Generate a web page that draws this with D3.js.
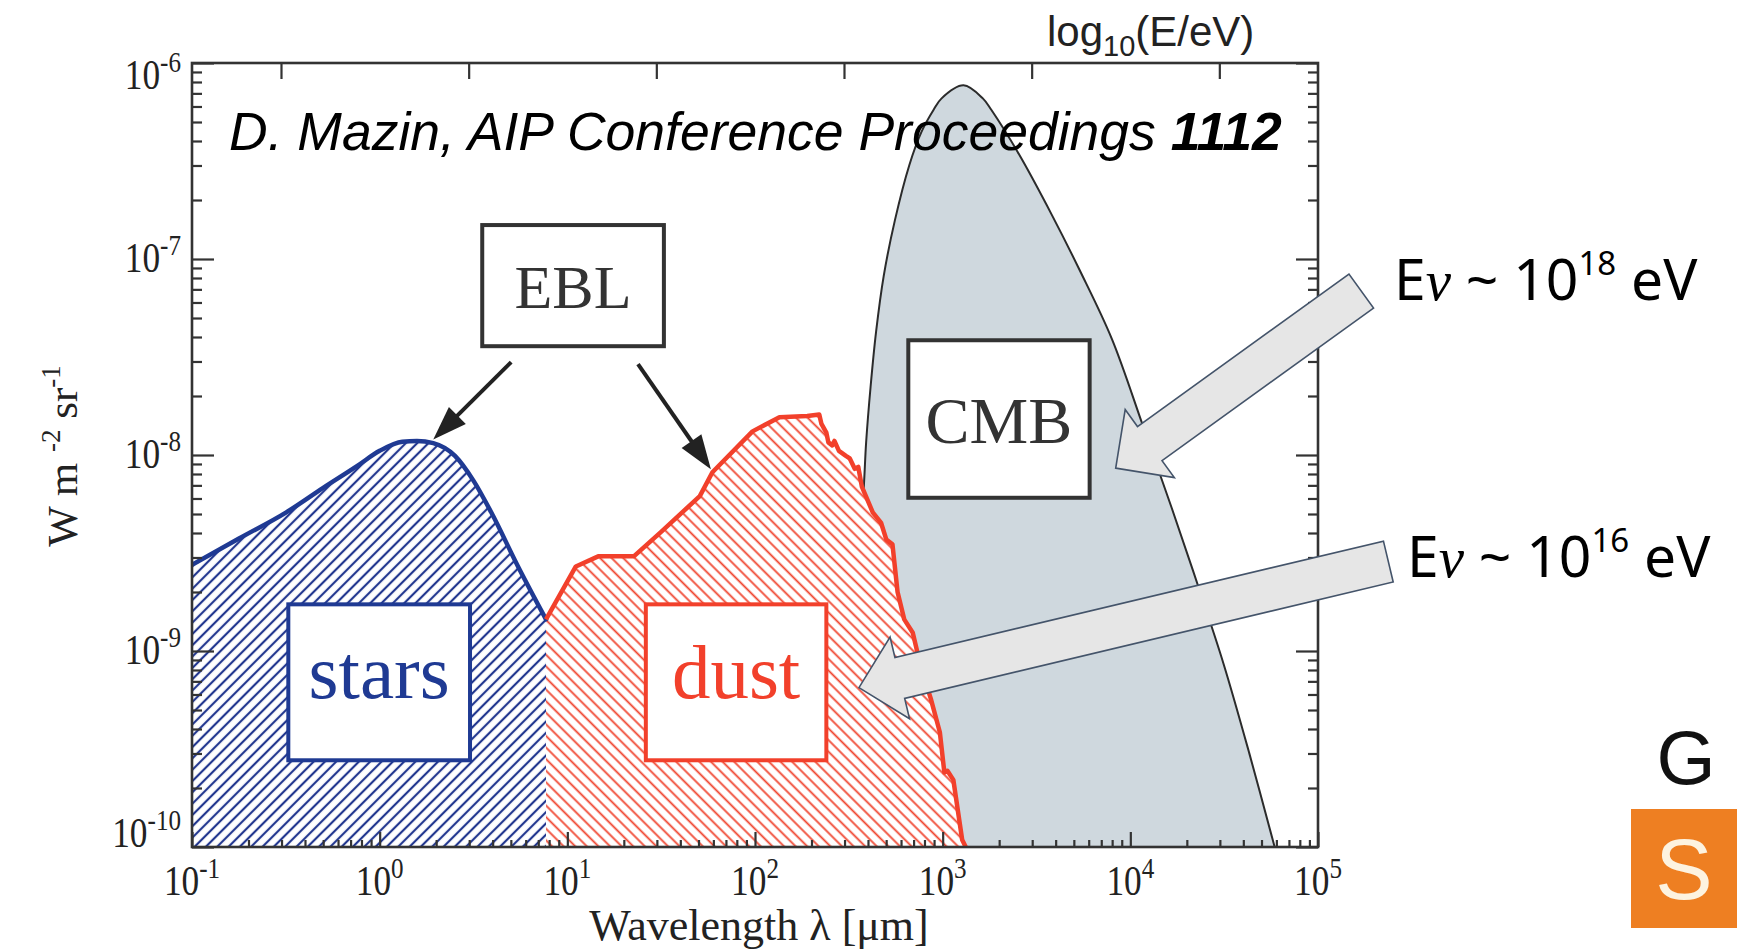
<!DOCTYPE html>
<html>
<head>
<meta charset="utf-8">
<script src="https://cdn.jsdelivr.net/npm/d3@7/dist/d3.min.js"></script>
<style>
body { margin: 0; background: #fff; }
</style>
</head>
<body>
<div id="graph_container"></div>
<script>
// wavelength in micron, nu I_nu in W m^-2 sr^-1
var starsLambda = [0.1, 0.178, 0.318, 0.5, 0.76, 1.0, 1.32, 1.58, 1.93, 2.52, 3.16, 3.93, 5.46, 7.7];
var starsFlux = [2.75e-9, 3.75e-9, 5.1e-9, 6.8e-9, 8.8e-9, 1.05e-8, 1.17e-8, 1.18e-8, 1.15e-8, 9.9e-9, 7.4e-9, 5.1e-9, 2.7e-9, 1.45e-9];

var dustLambda = [7.7, 11.1, 14.6, 22.6, 31.5, 50.8, 59.3, 97, 135, 190, 220, 226, 240, 246, 258, 265, 280, 305, 320, 340, 355, 371, 424, 470, 501, 540, 575, 624, 693, 760, 865, 966, 1021, 1060, 1140, 1270, 1327];
var dustFlux = [1.45e-9, 2.7e-9, 3.04e-9, 3.04e-9, 4.04e-9, 6.17e-9, 8.17e-9, 1.32e-8, 1.56e-8, 1.58e-8, 1.61e-8, 1.44e-8, 1.3e-8, 1.16e-8, 1.12e-8, 1.18e-8, 1.05e-8, 9.9e-9, 9.6e-9, 8.5e-9, 8.7e-9, 6.9e-9, 5.1e-9, 4.5e-9, 3.7e-9, 3.5e-9, 2.0e-9, 1.45e-9, 1.24e-9, 8.5e-10, 5.7e-10, 3.85e-10, 2.4e-10, 2.45e-10, 2.2e-10, 1.09e-10, 1e-10];

var cmbLambda = [282, 316, 347, 380, 391, 413, 442, 485, 556, 664, 771, 895, 984, 1291, 1641, 1816, 2547, 3828, 5383, 7980, 11670, 16600, 23000, 31400, 42950, 58750];
var cmbFlux = [1e-10, 3.98e-10, 2.0e-9, 6.89e-9, 1.16e-8, 2.23e-8, 4.27e-8, 8.18e-8, 1.57e-7, 3.01e-7, 4.45e-7, 5.77e-7, 6.58e-7, 7.69e-7, 6.58e-7, 5.77e-7, 3.43e-7, 1.67e-7, 8.73e-8, 3.9e-8, 1.41e-8, 5.38e-9, 2.14e-9, 8.59e-10, 3.03e-10, 1e-10];

var xTickValues = [1e-1, 1e0, 1e1, 1e2, 1e3, 1e4, 1e5];
var yTickValues = [1e-10, 1e-9, 1e-8, 1e-7, 1e-6];
var energyTicks = [10, 1, 0.1, 0.01, 0.001, 0.0001];   // top axis, eV
var energyDomain = [29.8, 2.98e-5];

// labelled boxes: lambda left, lambda right, flux top, flux bottom
var boxLabels = ["EBL", "CMB", "stars", "dust"];
var boxExtents = [[3.52, 32.7, 1.49e-7, 3.59e-8], [656, 6070, 3.85e-8, 6.05e-9], [0.326, 3.03, 1.73e-9, 2.77e-10], [26.2, 240, 1.73e-9, 2.77e-10]];
// arrows out of the EBL box: tail lambda, tail flux, tip lambda, tip flux
var eblArrows = [[5.02, 2.98e-8, 1.93, 1.2e-8], [23.8, 2.91e-8, 58.2, 8.47e-9]];
// neutrino arrows: tip lambda, tip flux, tail lambda, tail flux
var nuArrows = [[8356, 8.57e-9, 1.7e5, 6.86e-8], [358, 6.5e-10, 2.37e5, 2.86e-9]];
var nuExponents = ["18", "16"];

var margin = {top: 63, right: 419, bottom: 103, left: 192},
    w = 1737 - margin.left - margin.right,
    h = 950 - margin.top - margin.bottom;

var xScale = d3.scaleLog().domain([0.1, 1e5]).range([0, w]);
var yScale = d3.scaleLog().domain([1e-10, 1e-6]).range([h, 0]);
var eScale = d3.scaleLog().domain(energyDomain).range([0, w]);

var serif = "'Liberation Serif', 'Times New Roman', serif";
var sans = "'Liberation Sans', Arial, sans-serif";
var blue = "#1f3a93", red = "#f2402b", dark = "#333";

var root = d3.select('#graph_container').append('svg')
    .attr("width", 1737)
    .attr("height", 950)
    .style("display", "block");

var defs = root.append("defs");
function hatch(id, color, angle, gap, sw) {
    var p = defs.append("pattern").attr("id", id)
        .attr("patternUnits", "userSpaceOnUse")
        .attr("width", gap).attr("height", gap)
        .attr("patternTransform", "rotate(" + angle + ")");
    p.append("rect").attr("width", gap).attr("height", gap).attr("fill", "#fff");
    p.append("line").attr("x1", gap / 2).attr("x2", gap / 2).attr("y1", 0).attr("y2", gap)
        .attr("stroke", color).attr("stroke-width", sw);
}
hatch("hatchStars", "#22378f", 45, 8, 2.2);
hatch("hatchDust", "#f0452f", -45, 8.2, 1.8);

defs.append("clipPath").attr("id", "plotClip")
    .append("rect").attr("width", w).attr("height", h);

var svg = root.append("g")
    .attr("transform", "translate(" + margin.left + "," + margin.top + ")");

function pts(ls, fs) { return ls.map(function(l, i) { return {l: l, f: fs[i]}; }); }
var stars = pts(starsLambda, starsFlux),
    dust = pts(dustLambda, dustFlux),
    cmb = pts(cmbLambda, cmbFlux);

var area = d3.area()
    .x(function(d) { return xScale(d.l); })
    .y0(h)
    .y1(function(d) { return yScale(d.f); });
var line = d3.line()
    .x(function(d) { return xScale(d.l); })
    .y(function(d) { return yScale(d.f); });

var plot = svg.append("g").attr("clip-path", "url(#plotClip)");

// CMB
var smooth = d3.curveCatmullRom.alpha(0.5);
plot.append("path").datum(cmb)
    .attr("d", area.curve(smooth))
    .attr("fill", "#cfd8de");
plot.append("path").datum(cmb)
    .attr("d", line.curve(smooth))
    .attr("fill", "none").attr("stroke", "#2b2b2b").attr("stroke-width", 2);

// stars + dust hatched areas
plot.append("path").datum(stars)
    .attr("d", area.curve(d3.curveMonotoneX))
    .attr("fill", "url(#hatchStars)");
plot.append("path").datum(dust)
    .attr("d", area.curve(d3.curveLinear))
    .attr("fill", "url(#hatchDust)");
plot.append("path").datum(stars)
    .attr("d", line.curve(d3.curveMonotoneX))
    .attr("fill", "none").attr("stroke", blue).attr("stroke-width", 4.5)
    .attr("stroke-linejoin", "round").attr("stroke-linecap", "round");
plot.append("path").datum(dust)
    .attr("d", line.curve(d3.curveLinear))
    .attr("fill", "none").attr("stroke", red).attr("stroke-width", 4.5)
    .attr("stroke-linejoin", "round");

// boxes
var boxColor = {EBL: dark, CMB: dark, stars: blue, dust: red};
var boxFont = {EBL: 62, CMB: 66, stars: 77, dust: 77};
boxLabels.forEach(function(lab, i) {
    var b = boxExtents[i];
    var x0 = xScale(b[0]), x1 = xScale(b[1]), y0 = yScale(b[2]), y1 = yScale(b[3]);
    svg.append("rect")
        .attr("x", x0).attr("y", y0)
        .attr("width", x1 - x0).attr("height", y1 - y0)
        .attr("fill", "#fff")
        .attr("stroke", boxColor[lab]).attr("stroke-width", 4);
    svg.append("text")
        .attr("x", (x0 + x1) / 2)
        .attr("y", (y0 + y1) / 2)
        .attr("dy", lab == "EBL" || lab == "CMB" ? "0.36em" : "0.2em")
        .attr("text-anchor", "middle")
        .style("font-family", serif)
        .style("font-size", boxFont[lab] + "px")
        .attr("fill", boxColor[lab])
        .text(lab);
});

// citation
var cite = svg.append("text")
    .attr("x", 229 - margin.left).attr("y", 150 - margin.top)
    .style("font-family", sans).style("font-size", "53.5px").style("font-style", "italic")
    .attr("fill", "#000");
cite.append("tspan").text("D. Mazin, AIP Conference Proceedings ");
cite.append("tspan").style("font-weight", "bold").text("1112");

// frame and ticks
function isMajor(d) { var e = Math.log10(d); return Math.abs(e - Math.round(e)) < 1e-6; }
var xMinor = xScale.ticks().filter(function(d) { return !isMajor(d); });
var yMinor = yScale.ticks().filter(function(d) { return !isMajor(d); });

function noDomain(g) { g.select(".domain").remove(); }
var axes = svg.append("g").attr("class", "axes");
axes.append("g").attr("transform", "translate(0," + h + ")")
    .call(d3.axisBottom(xScale).tickValues(xTickValues).tickSize(-15).tickFormat("")).call(noDomain);
axes.append("g").attr("transform", "translate(0," + h + ")")
    .call(d3.axisBottom(xScale).tickValues(xMinor).tickSize(-7).tickFormat("")).call(noDomain);
axes.append("g")
    .call(d3.axisTop(eScale).tickValues(energyTicks).tickSize(-16).tickFormat("")).call(noDomain);
axes.append("g")
    .call(d3.axisLeft(yScale).tickValues(yTickValues).tickSize(-22).tickFormat("")).call(noDomain);
axes.append("g")
    .call(d3.axisLeft(yScale).tickValues(yMinor).tickSize(-10).tickFormat("")).call(noDomain);
axes.append("g").attr("transform", "translate(" + w + ",0)")
    .call(d3.axisRight(yScale).tickValues(yTickValues).tickSize(-22).tickFormat("")).call(noDomain);
axes.append("g").attr("transform", "translate(" + w + ",0)")
    .call(d3.axisRight(yScale).tickValues(yMinor).tickSize(-10).tickFormat("")).call(noDomain);
axes.selectAll(".tick line").attr("stroke", dark).attr("stroke-width", 2.2);

svg.append("rect")
    .attr("width", w).attr("height", h)
    .attr("fill", "none").attr("stroke", dark).attr("stroke-width", 2.6);

// tick labels, glyphs a little narrow and tall like the original
function powerLabel(sel, d) {
    sel.append("tspan").text("10");
    sel.append("tspan").attr("dy", -15).style("font-size", "27px")
        .text(String(Math.round(Math.log10(d))));
}
svg.selectAll(".xlabel").data(xTickValues).enter().append("text")
    .attr("class", "xlabel")
    .attr("transform", function(d) { return "translate(" + xScale(d) + "," + (h + 48) + ") scale(0.93,1.12)"; })
    .attr("text-anchor", "middle")
    .style("font-family", serif).style("font-size", "38px")
    .attr("fill", "#222")
    .each(function(d) { powerLabel(d3.select(this), d); });

svg.selectAll(".ylabel").data(yTickValues).enter().append("text")
    .attr("class", "ylabel")
    .attr("transform", function(d, i) {
        var off = i == 0 ? 0 : (i == yTickValues.length - 1 ? 26 : 13);
        return "translate(-11," + (yScale(d) + off) + ") scale(0.93,1.12)";
    })
    .attr("text-anchor", "end")
    .style("font-family", serif).style("font-size", "38px")
    .attr("fill", "#222")
    .each(function(d) { powerLabel(d3.select(this), d); });

// axis titles
svg.append("text")
    .attr("x", 759 - margin.left).attr("y", 940 - margin.top)
    .attr("text-anchor", "middle")
    .style("font-family", serif).style("font-size", "44px")
    .attr("fill", "#222")
    .text("Wavelength \u03bb [\u03bcm]");

var ylab = svg.append("text")
    .attr("transform", "translate(" + (77 - margin.left) + "," + (456 - margin.top) + ") rotate(-90)")
    .attr("text-anchor", "middle")
    .style("font-family", serif).style("font-size", "43px")
    .attr("fill", "#222");
ylab.append("tspan").text("W m ");
ylab.append("tspan").attr("dy", -17).style("font-size", "27px").text("-2");
ylab.append("tspan").attr("dy", 17).text(" sr");
ylab.append("tspan").attr("dy", -17).style("font-size", "27px").text("-1");

var etitle = svg.append("text")
    .attr("x", 1047 - margin.left).attr("y", 46 - margin.top)
    .style("font-family", sans).style("font-size", "42px")
    .attr("fill", "#222");
etitle.append("tspan").text("log");
etitle.append("tspan").attr("dy", 10).style("font-size", "29px").text("10");
etitle.append("tspan").attr("dy", -10).text("(E/eV)");

// EBL arrows
eblArrows.forEach(function(a) {
    var tx = xScale(a[0]), ty = yScale(a[1]), px = xScale(a[2]), py = yScale(a[3]);
    var len = Math.hypot(px - tx, py - ty), ux = (px - tx) / len, uy = (py - ty) / len;
    var hl = 34, hw = 12;
    var bx = px - ux * hl, by = py - uy * hl;
    svg.append("line")
        .attr("x1", tx).attr("y1", ty).attr("x2", bx + ux * 4).attr("y2", by + uy * 4)
        .attr("stroke", "#222").attr("stroke-width", 4);
    svg.append("polygon")
        .attr("points", [[px, py], [bx - uy * hw, by + ux * hw], [bx + uy * hw, by - ux * hw]].join(" "))
        .attr("fill", "#222");
});

// neutrino block arrows
nuArrows.forEach(function(a) {
    var px = xScale(a[0]), py = yScale(a[1]), tx = xScale(a[2]), ty = yScale(a[3]);
    var len = Math.hypot(tx - px, ty - py), ux = (tx - px) / len, uy = (ty - py) / len;
    var nx = -uy, ny = ux;
    var hl = 42, hw = 42, sw = 21;
    var bx = px + ux * hl, by = py + uy * hl;
    var poly = [
        [px, py],
        [bx + nx * hw, by + ny * hw],
        [bx + nx * sw, by + ny * sw],
        [tx + nx * sw, ty + ny * sw],
        [tx - nx * sw, ty - ny * sw],
        [bx - nx * sw, by - ny * sw],
        [bx - nx * hw, by - ny * hw]
    ];
    svg.append("polygon")
        .attr("points", poly.join(" "))
        .attr("fill", "#e6e6e6")
        .attr("stroke", "#44546a").attr("stroke-width", 1.6)
        .attr("stroke-linejoin", "miter");
});

// neutrino energy labels (page coordinates)
var nuPos = [[1394, 300], [1407, 577]];
nuExponents.forEach(function(ex, i) {
    var t = root.append("text")
        .attr("x", nuPos[i][0]).attr("y", nuPos[i][1])
        .style("font-family", "'Noto Sans', 'Open Sans', sans-serif")
        .style("font-size", "57px")
        .attr("fill", "#000");
    t.append("tspan").text("E");
    t.append("tspan").style("font-family", serif).style("font-style", "italic").text("\u03bd");
    t.append("tspan").text(" ~ 10");
    t.append("tspan").attr("dy", -25).style("font-size", "33px").text(ex);
    t.append("tspan").attr("dy", 25).text(" eV");
});

// corner logo
root.append("text")
    .attr("x", 1686).attr("y", 784)
    .attr("text-anchor", "middle")
    .style("font-family", sans).style("font-size", "76px")
    .attr("fill", "#111")
    .text("G");
root.append("rect")
    .attr("x", 1631).attr("y", 809).attr("width", 106).attr("height", 119)
    .attr("fill", "#ee7f22");
root.append("text")
    .attr("x", 1684).attr("y", 899)
    .attr("text-anchor", "middle")
    .style("font-family", sans).style("font-size", "86px")
    .attr("fill", "#fdf3e0")
    .text("S");
</script>
</body>
</html>
